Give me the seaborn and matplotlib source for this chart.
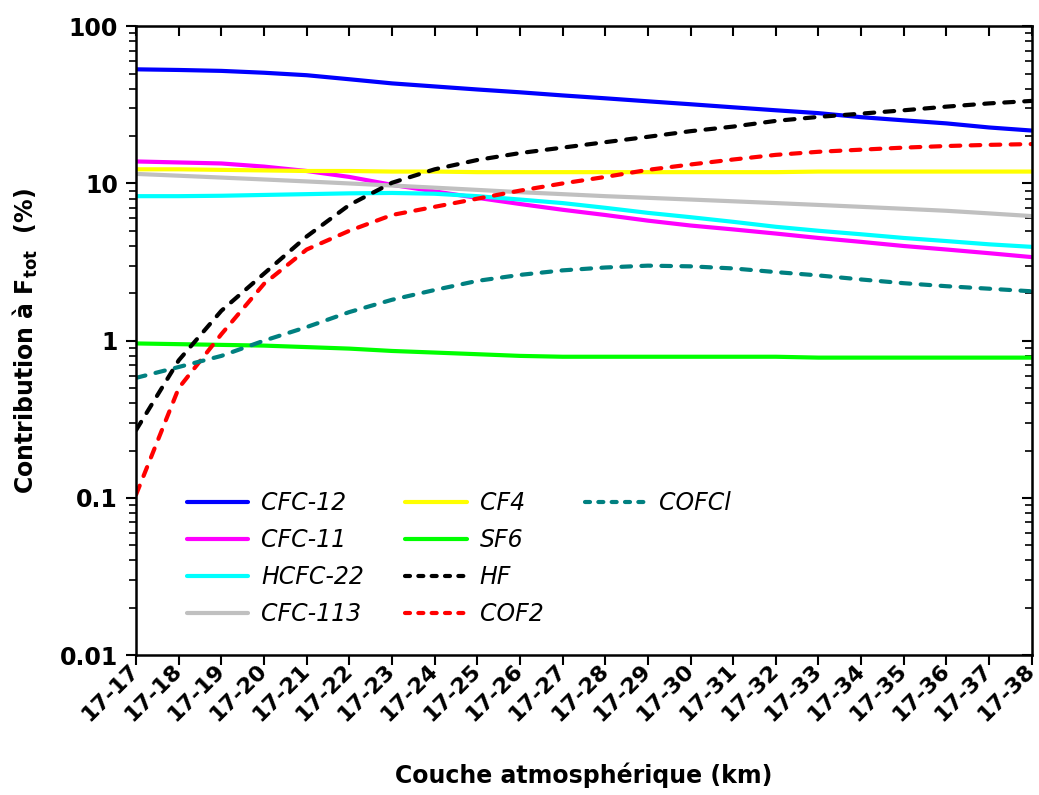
import numpy as np
import pandas as pd
import matplotlib
matplotlib.use("Agg")
import matplotlib.pyplot as plt
import matplotlib.transforms as mtransforms
import seaborn as sns
from matplotlib.lines import Line2D

# --- Data ---
layers = [f"17-{k}" for k in range(17, 39)]

cfc12 = [53.2, 52.7, 52.0, 50.6, 48.8, 46.0, 43.3, 41.4, 39.6, 38.0, 36.3,
         34.8, 33.3, 31.9, 30.5, 29.2, 28.0, 26.4, 25.2, 24.1, 22.7, 21.7]
cfc11 = [13.8, 13.6, 13.4, 12.8, 12.0, 11.0, 9.8, 8.9, 8.1, 7.4, 6.8,
         6.3, 5.8, 5.4, 5.1, 4.8, 4.5, 4.25, 4.0, 3.8, 3.6, 3.4]
hcfc22 = [8.3, 8.3, 8.35, 8.45, 8.55, 8.65, 8.7, 8.6, 8.3, 7.9, 7.5,
          7.0, 6.5, 6.1, 5.7, 5.3, 5.0, 4.75, 4.5, 4.3, 4.1, 3.95]
cfc113 = [11.5, 11.2, 10.9, 10.6, 10.3, 10.0, 9.7, 9.4, 9.1, 8.8, 8.55,
          8.3, 8.1, 7.9, 7.7, 7.5, 7.3, 7.1, 6.9, 6.7, 6.45, 6.2]
cf4 = [12.3, 12.3, 12.2, 12.1, 12.0, 12.0, 11.9, 11.9, 11.8, 11.8, 11.8,
       11.8, 11.8, 11.8, 11.8, 11.8, 11.9, 11.9, 11.9, 11.9, 11.9, 11.9]
sf6 = [0.96, 0.95, 0.94, 0.93, 0.91, 0.89, 0.86, 0.84, 0.82, 0.80, 0.79,
       0.79, 0.79, 0.79, 0.79, 0.79, 0.78, 0.78, 0.78, 0.78, 0.78, 0.78]
hf = [0.27, 0.75, 1.55, 2.67, 4.6, 7.3, 10.1, 12.3, 14.1, 15.6, 16.9,
      18.3, 19.8, 21.5, 23.0, 25.0, 26.5, 27.8, 29.2, 30.8, 32.3, 33.5]
cof2 = [0.105, 0.5, 1.1, 2.3, 3.8, 5.0, 6.3, 7.1, 8.0, 9.0, 10.0,
        11.0, 12.2, 13.2, 14.2, 15.2, 15.9, 16.4, 16.9, 17.3, 17.6, 17.8]
cofcl = [0.58, 0.68, 0.8, 1.0, 1.22, 1.52, 1.82, 2.1, 2.4, 2.62, 2.8,
         2.92, 3.0, 2.97, 2.88, 2.73, 2.6, 2.45, 2.32, 2.22, 2.14, 2.06]

series = {
    "CFC-12": (cfc12, "#0000FF", "-"),
    "CFC-11": (cfc11, "#FF00FF", "-"),
    "HCFC-22": (hcfc22, "#00FFFF", "-"),
    "CFC-113": (cfc113, "#C0C0C0", "-"),
    "CF4": (cf4, "#FFFF00", "-"),
    "SF6": (sf6, "#00FF00", "-"),
    "HF": (hf, "#000000", "--"),
    "COF2": (cof2, "#FF0000", "--"),
    "COFCl": (cofcl, "#008080", "--"),
}

sns.set_style("white")
plt.rcParams["font.family"] = ["DejaVu Sans"]
plt.rcParams["text.color"] = "black"
plt.rcParams["axes.labelcolor"] = "black"
plt.rcParams["xtick.color"] = "black"
plt.rcParams["ytick.color"] = "black"

fig = plt.figure(figsize=(10.39, 7.95), dpi=100)
ax = fig.add_axes([0.131, 0.176, 0.862, 0.791])

lw = 3.0
handles = []
for name, (vals, col, ls) in series.items():
    df = pd.DataFrame({"layer": layers, "val": vals})
    sns.lineplot(data=df, x="layer", y="val", color=col, lw=lw, ax=ax,
                 label=None, legend=False)
    line = ax.lines[-1]
    if ls == "--":
        line.set_dashes((2.3, 2.5))
    line.set_solid_capstyle("round")
    line.set_dash_capstyle("round")
    h = Line2D([], [], color=col, lw=lw)
    if ls == "--":
        h.set_dashes((1.2, 2.0))
    h.set_solid_capstyle("round")
    h.set_dash_capstyle("round")
    handles.append((h, name))

ax.set_yscale("log")
ax.set_ylim(0.01, 100)
ax.set_xlim(0, len(layers) - 1)
ax.set_yticks([0.01, 0.1, 1, 10, 100])
ax.set_yticklabels(["0.01", "0.1", "1", "10", "100"], fontsize=17, fontweight="bold")
ax.set_xticks(range(len(layers)))
ax.set_xticklabels(layers, rotation=45, ha="right", va="center", rotation_mode="anchor",
                   fontsize=16, fontweight="bold")
shift = mtransforms.ScaledTranslation(-6 / 100, -4 / 100, fig.dpi_scale_trans)
for lab in ax.get_xticklabels():
    lab.set_transform(lab.get_transform() + shift)

ax.tick_params(axis="both", which="major", direction="out", length=7, width=1.5,
               left=True, bottom=True)
ax.tick_params(axis="y", which="minor", direction="out", length=5, width=1.2, left=True)
ax.tick_params(axis="x", which="major", pad=2)
ax.tick_params(axis="y", which="major", pad=6)

for sp in ax.spines.values():
    sp.set_linewidth(1.8)
    sp.set_color("black")

# mirrored ticks pointing inward on top and right
top = ax.secondary_xaxis("top")
top.set_xticks(range(len(layers)))
top.tick_params(direction="in", length=7, width=1.5, labeltop=False)
right = ax.secondary_yaxis("right")
right.set_yticks([0.01, 0.1, 1, 10, 100])
right.tick_params(which="major", direction="in", length=7, width=1.5, labelright=False)
right.tick_params(which="minor", direction="in", length=5, width=1.2)

ax.set_xlabel("Couche atmosphérique (km)", fontsize=17, fontweight="bold", labelpad=27)
ax.set_ylabel(r"Contribution à F$_{\mathbf{tot}}$  (%)", fontsize=17,
              fontweight="bold", labelpad=14)

# legend: 4 + 4 + 1 layout
blank = Line2D([], [], color="none")
hl = [h for h, _ in handles[:8]] + [handles[8][0], blank, blank, blank]
lb = [n for _, n in handles[:8]] + [handles[8][1], "", "", ""]
leg = ax.legend(hl, lb, ncol=3, loc="upper left", bbox_to_anchor=(0.033, 0.295),
                frameon=False, fontsize=17, handlelength=2.6, handletextpad=0.55,
                labelspacing=0.55, columnspacing=1.75)
for t in leg.get_texts():
    t.set_fontstyle("italic")
    t.set_color("black")

fig.savefig("out.png", dpi=100)
